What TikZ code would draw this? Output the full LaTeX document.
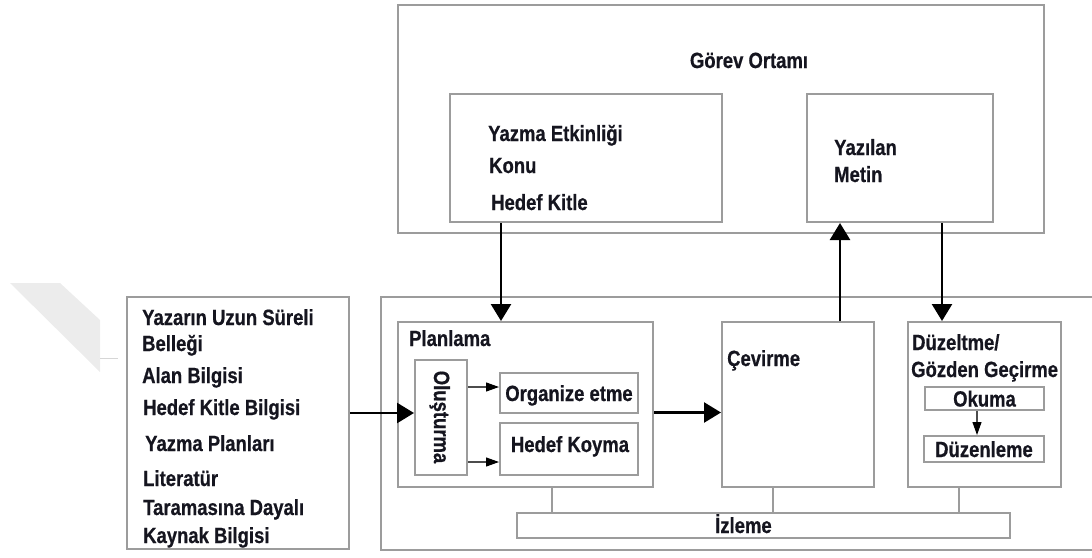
\documentclass[tikz,border=0pt]{standalone}
\usepackage{fontspec}
\setmainfont{Liberation Sans}[FakeStretch=0.84, BoldFeatures={FakeBold=0.6}]
\usetikzlibrary{arrows.meta}
\definecolor{frame}{HTML}{9C9C9C}
\definecolor{ink}{HTML}{15151F}
\definecolor{faint}{HTML}{ECECEC}
\tikzset{
  box/.style={draw=frame, line width=2pt, inner sep=0pt, fill=white},
  txt/.style={inner sep=0pt, text=ink, font=\fontsize{22}{26}\selectfont\bfseries,
              text height=16pt, text depth=0pt},
  bigarrow/.style={draw=black, line width=2.6pt, -{Triangle[width=20pt,length=17pt]}},
  thinarrow/.style={draw=black!70, line width=1.1pt, -{Triangle[width=9pt,length=13pt,color=black]}},
  tick/.style={draw=frame, line width=1.8pt}
}
\begin{document}
\begin{tikzpicture}[x=1pt,y=-1pt]
\useasboundingbox (0,0) rectangle (1092,557);

% pale mark at the left margin
\fill[faint] (10,283) -- (60,283) -- (100,320) -- (100,372) -- cycle;
\draw[faint!80!gray, line width=1pt] (100,358) -- (118,358);

% task environment
\node[box, minimum width=646pt, minimum height=228pt] (gorev) at (721,119) {};
\node[txt] (gorevlbl) at (749,60) {Görev Ortamı};
\node[box, minimum width=272pt, minimum height=128pt] (etk) at (586,158) {};
\node[txt, anchor=west] (etk1) at (488,133) {Yazma Etkinliği};
\node[txt, anchor=west] (etk2) at (489,165) {Konu};
\node[txt, anchor=west] (etk3) at (491,202) {Hedef Kitle};
\node[box, minimum width=186pt, minimum height=128pt] (metin) at (900,158) {};
\node[txt, anchor=west] (metin1) at (834,147) {Yazılan};
\node[txt, anchor=west] (metin2) at (834,174) {Metin};

% long-term memory
\node[box, minimum width=222pt, minimum height=252pt] (bellek) at (238,423) {};
\node[txt, anchor=west] (b1) at (142,317) {Yazarın Uzun Süreli};
\node[txt, anchor=west] (b2) at (142,343) {Belleği};
\node[txt, anchor=west] (b3) at (142,375) {Alan Bilgisi};
\node[txt, anchor=west] (b4) at (143,407) {Hedef Kitle Bilgisi};
\node[txt, anchor=west] (b5) at (145,443) {Yazma Planları};
\node[txt, anchor=west] (b6) at (143,478) {Literatür};
\node[txt, anchor=west] (b7) at (143,507) {Taramasına Dayalı};
\node[txt, anchor=west] (b8) at (143,535) {Kaynak Bilgisi};

% writing process frame (open to the right)
\draw[frame, line width=2pt] (1094,297) -- (381,297) -- (381,550) -- (1094,550);

% planning
\node[box, minimum width=255pt, minimum height=165pt] (plan) at (525.5,404.5) {};
\node[txt, anchor=west] (planlbl) at (409,338) {Planlama};
\node[box, minimum width=52pt, minimum height=115pt] (olus) at (441,417.5) {};
\node[txt, rotate=-90] (oluslbl) at (442,417) {Oluşturma};
\node[box, txt, minimum width=138pt, minimum height=40pt] (org) at (569,393) {Organize etme};
\node[box, minimum width=138pt, minimum height=52pt] (hedef) at (569,449) {};
\node[txt] (hedeflbl) at (570,444) {Hedef Koyma};

% translating
\node[box, minimum width=152pt, minimum height=165pt] (cevir) at (798,404.5) {};
\node[txt, anchor=west] (cevirlbl) at (727,358) {Çevirme};

% reviewing
\node[box, minimum width=153pt, minimum height=165pt] (duzelt) at (984.5,404.5) {};
\node[txt, anchor=west] (duzelt1) at (912,342) {Düzeltme/};
\node[txt, anchor=west] (duzelt2) at (911,369) {Gözden Geçirme};
\node[box, txt, minimum width=119pt, minimum height=23pt] (okuma) at (984.5,398.5) {Okuma};
\node[box, txt, minimum width=120pt, minimum height=26pt] (duzen) at (984,449) {Düzenleme};

% monitoring
\node[box, minimum width=493pt, minimum height=25pt] (izleme) at (763.5,525.5) {};
\node[txt, anchor=west] (izlemelbl) at (715,525) {İzleme};

% links to monitoring
\draw[tick] ([xshift=26.5pt]plan.south) -- ([xshift=26.5pt]plan.south |- izleme.north);
\draw[tick] ([xshift=-25pt]cevir.south) -- ([xshift=-25pt]cevir.south |- izleme.north);
\draw[tick] ([xshift=-25.5pt]duzelt.south) -- ([xshift=-25.5pt]duzelt.south |- izleme.north);

% main flow
\draw[bigarrow] ([yshift=4.5pt]olus.west -| bellek.east) -- ([yshift=4.5pt]olus.west);
\draw[bigarrow] ([yshift=-8pt]plan.east) -- ([yshift=-8pt]plan.east -| cevir.west);
\draw[bigarrow] ([xshift=-85pt]etk.south) -- ([xshift=-85pt]etk.south |- plan.north);
\draw[bigarrow] ([xshift=42pt]cevir.north) -- ([xshift=42pt]cevir.north |- metin.south);
\draw[bigarrow] ([xshift=42pt]metin.south) -- ([xshift=42pt]metin.south |- duzelt.north);

% inner flow
\draw[thinarrow] ([yshift=6pt]org.west -| olus.east) -- ([yshift=6pt]org.west);
\draw[thinarrow] ([yshift=-13pt]hedef.west -| olus.east) -- ([yshift=-13pt]hedef.west);
\draw[thinarrow] ([xshift=-7.5pt]okuma.south) -- ([xshift=-7.5pt]okuma.south |- duzen.north);
\end{tikzpicture}
\end{document}
